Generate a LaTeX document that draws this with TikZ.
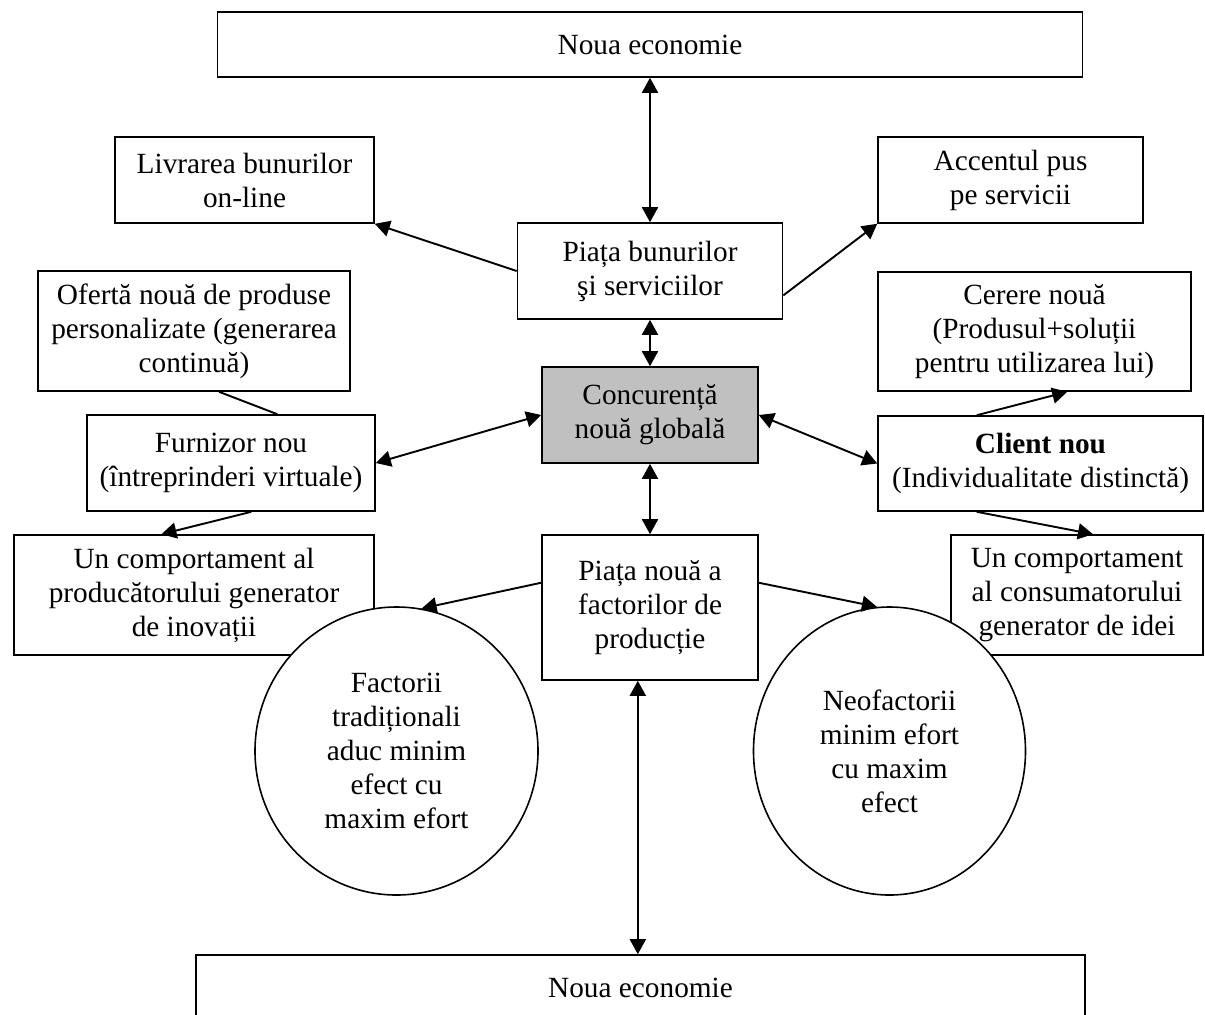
\documentclass[tikz,border=0pt]{standalone}
\usepackage{fontspec}
\setmainfont{Liberation Serif}
\usetikzlibrary{arrows.meta,calc,shapes.geometric}
\definecolor{silver}{RGB}{192,192,192}
\begin{document}
\begin{tikzpicture}[x=0.5pt,y=-0.5pt,
  sz/.style 2 args={minimum width=#1*0.5pt, minimum height=#2*0.5pt},
  box/.style={draw, line width=0.8pt, rectangle, inner sep=0pt, align=center,
    font=\fontsize{14.65}{17}\selectfont},
  circ/.style={draw, line width=0.8pt, ellipse, fill=white, inner sep=0pt, align=center,
    font=\fontsize{14.65}{17}\selectfont},
  arr/.style={-{Triangle[length=7.5pt,width=8pt]}, line width=0.95pt},
  darr/.style={{Triangle[length=7.5pt,width=8pt]}-{Triangle[length=7.5pt,width=8pt]}, line width=0.95pt},
  plain/.style={line width=0.95pt}]
\useasboundingbox (0,0) rectangle (1205,1014);
\clip (0,0) rectangle (1205,1014);
\node[box, sz={865}{65}] (top) at (650,44.5) {Noua economie};
\node[box, sz={259}{86}] (liv) at (244.5,180) {Livrarea bunurilor\\on-line};
\node[box, sz={265}{86}] (acc) at (1010.5,180) {Accentul pus\\pe servicii};
\node[box, sz={265}{96}] (piata) at (650,271) {Piața bunurilor\\şi serviciilor};
\node[box, fill=silver, sz={216}{96}] (conc) at (650,415) {Concurență\\nouă globală};
\node[box, sz={312}{120}] (oferta) at (194,331) {Ofertă nouă de produse\\personalizate (generarea\\continuă)};
\node[box, sz={288}{96}] (furn) at (231,463) {Furnizor nou\\(întreprinderi virtuale)};
\node[box, sz={360}{120}] (prod) at (194,595) {Un comportament al\\producătorului generator\\de inovații};
\node[box, sz={313}{119}] (cerere) at (1034.5,331.5) {Cerere nouă\\(Produsul+soluții\\pentru utilizarea lui)};
\node[box, sz={325}{95}] (client) at (1040.5,463.5) {\textbf{Client nou}\\(Individualitate distinctă)};
\node[box, sz={252}{120}] (cons) at (1077,595) {Un comportament\\al consumatorului\\generator de idei};
\node[box, sz={216}{145}] (pnoua) at (650,607.5) {Piața nouă a\\factorilor de\\producție};
\node[box, sz={889}{65}] (bot) at (640.5,987.5) {Noua economie};
\node[circ, sz={283}{288}] (lc) at (396.5,751) {Factorii\\tradiționali\\aduc minim\\efect cu\\maxim efort};
\node[circ, sz={272}{288}] (rc) at (889.5,751) {Neofactorii\\minim efort\\cu maxim\\efect};
\draw[darr] (top.south) -- (piata.north);
\draw[arr] (piata.west) -- (liv.south east);
\draw[arr] ($(piata.north east)!0.75!(piata.south east)$) -- (acc.south west);
\draw[darr] (piata.south) -- (conc.north);
\draw[plain] ($(oferta.south west)!0.58!(oferta.south east)$) -- ($(furn.north west)!0.66!(furn.north east)$);
\draw[darr] (furn.east) -- (conc.west);
\draw[arr] ($(furn.south west)!0.57!(furn.south east)$) -- ($(prod.north west)!0.41!(prod.north east)$);
\draw[darr] (conc.east) -- (client.west);
\draw[arr] ($(client.north west)!0.305!(client.north east)$) -- ($(cerere.south west)!0.604!(cerere.south east)$);
\draw[arr] ($(client.south west)!0.305!(client.south east)$) -- ($(cons.north west)!0.563!(cons.north east)$);
\draw[darr] (conc.south) -- (pnoua.north);
\draw[arr] ($(pnoua.north west)!0.331!(pnoua.south west)$) -- (lc.80);
\draw[arr] ($(pnoua.north east)!0.331!(pnoua.south east)$) -- (rc.95);
\coordinate (pb) at ($(pnoua.south west)!0.444!(pnoua.south east)$);
\draw[darr] (pb) -- (pb |- bot.north);
\end{tikzpicture}
\end{document}
